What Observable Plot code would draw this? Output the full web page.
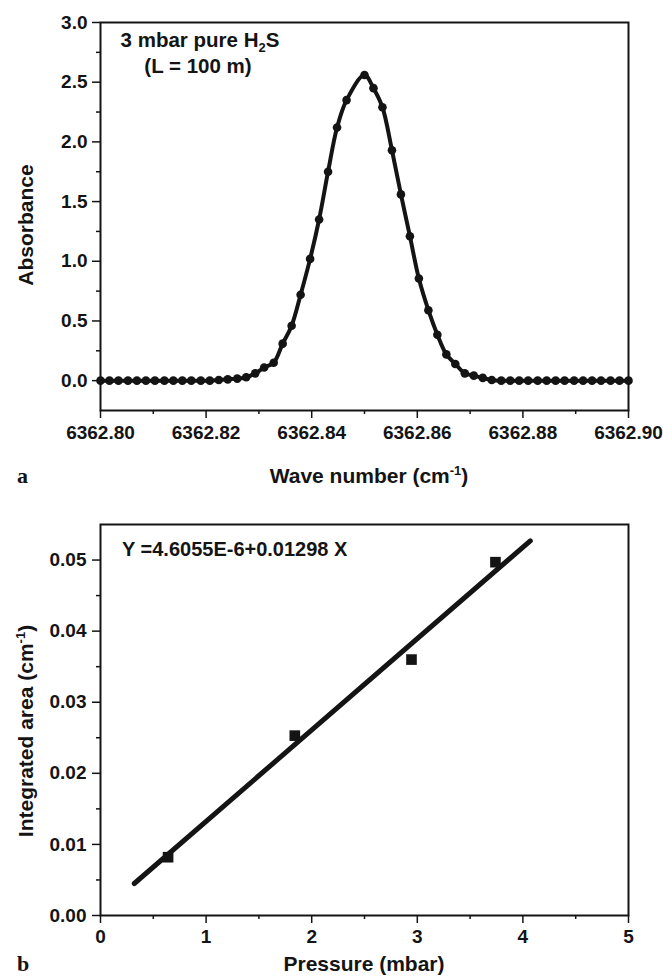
<!DOCTYPE html>
<html>
<head>
<meta charset="utf-8">
<script src="https://cdn.jsdelivr.net/npm/d3@7"></script>
<script src="https://cdn.jsdelivr.net/npm/@observablehq/plot@0.6"></script>
<style>
  body { margin: 0; background: #fff; }
  #chart svg { display: block; }
</style>
</head>
<body>
<div id="chart"></div>
<script>
// ---------- Panel a: absorption spectrum ----------
const wavenumber = [
  6362.8000, 6362.8017, 6362.8034, 6362.8052, 6362.8069, 6362.8086, 6362.8103, 6362.8121, 6362.8138, 6362.8155,
  6362.8172, 6362.8190, 6362.8207, 6362.8224, 6362.8241, 6362.8259, 6362.8276, 6362.8293, 6362.8310, 6362.8328,
  6362.8345, 6362.8362, 6362.8379, 6362.8397, 6362.8414, 6362.8431, 6362.8448, 6362.8466, 6362.8500,
  6362.8517, 6362.8534, 6362.8552, 6362.8569, 6362.8586, 6362.8603, 6362.8621, 6362.8638, 6362.8655,
  6362.8672, 6362.8690, 6362.8707, 6362.8724, 6362.8741, 6362.8759, 6362.8776, 6362.8793, 6362.8810, 6362.8828,
  6362.8845, 6362.8862, 6362.8879, 6362.8897, 6362.8914, 6362.8931, 6362.8948, 6362.8966, 6362.8983, 6362.9000
];
const absorbance = [
  0, 0, 0, 0, 0, 0, 0, 0, 0, 0,
  0, 0, 0, 0.005, 0.011, 0.017, 0.028, 0.061, 0.11, 0.15,
  0.31, 0.46, 0.72, 1.02, 1.35, 1.75, 2.12, 2.35, 2.56,
  2.45, 2.29, 1.93, 1.56, 1.21, 0.855, 0.59, 0.385, 0.22,
  0.14, 0.061, 0.042, 0.023, 0.006, 0, 0, 0, 0, 0,
  0, 0, 0, 0, 0, 0, 0, 0, 0, 0
];
const xTicksA = [6362.80, 6362.82, 6362.84, 6362.86, 6362.88, 6362.90];
const xMinorA = [6362.81, 6362.83, 6362.85, 6362.87, 6362.89];
const yTicksA = [0.0, 0.5, 1.0, 1.5, 2.0, 2.5, 3.0];
const yMinorA = [0.25, 0.75, 1.25, 1.75, 2.25, 2.75];

// ---------- Panel b: integrated area vs pressure ----------
const pressure = [0.64, 1.84, 2.945, 3.74];
const integratedArea = [0.0082, 0.0253, 0.0360, 0.0497];
const fitPressure = [0.32, 4.07];
const fitArea = [0.0045, 0.0527];
const xTicksB = [0, 1, 2, 3, 4, 5];
const xMinorB = [0.5, 1.5, 2.5, 3.5, 4.5];
const yTicksB = [0.00, 0.01, 0.02, 0.03, 0.04, 0.05];
const yMinorB = [0.005, 0.015, 0.025, 0.035, 0.045];

const spectrum = wavenumber.map((w, i) => ({w, a: absorbance[i]}));
const points = pressure.map((p, i) => ({p, v: integratedArea[i]}));
const fit = fitPressure.map((p, i) => ({p, v: fitArea[i]}));

const font = "'Liberation Sans', Arial, Helvetica, sans-serif";
const ink = "#141414";
const baseStyle = {fontFamily: font, fontWeight: "bold", fontSize: "19px", color: ink, background: "#fff", overflow: "visible"};

const plotA = Plot.plot({
  width: 663, height: 500,
  marginLeft: 100, marginRight: 35, marginTop: 22, marginBottom: 90,
  style: baseStyle,
  x: {domain: [6362.80, 6362.90], label: null},
  y: {domain: [-0.25, 3.0], label: null},
  marks: [
    Plot.line(spectrum, {x: "w", y: "a", stroke: ink, strokeWidth: 4, curve: "catmull-rom"}),
    Plot.dot(spectrum, {x: "w", y: "a", r: 4.3, fill: ink}),
    Plot.axisX({ticks: xTicksA, tickSize: 8, tickPadding: 7, strokeWidth: 1.5, tickFormat: d => d.toFixed(2)}),
    Plot.axisX({ticks: xMinorA, tickSize: 4, strokeWidth: 1.5, tickFormat: () => ""}),
    Plot.axisY({ticks: yTicksA, tickSize: 8, tickPadding: 5, strokeWidth: 1.5, tickFormat: d => d.toFixed(1)}),
    Plot.axisY({ticks: yMinorA, tickSize: 4, strokeWidth: 1.5, tickFormat: () => ""}),
    Plot.frame({stroke: ink, strokeWidth: 2})
  ]
});

const plotB = Plot.plot({
  width: 663, height: 479,
  marginLeft: 100, marginRight: 35, marginTop: 24, marginBottom: 64,
  style: baseStyle,
  x: {domain: [0, 5], label: null},
  y: {domain: [0, 0.055], label: null},
  marks: [
    Plot.line(fit, {x: "p", y: "v", stroke: ink, strokeWidth: 5, strokeLinecap: "round"}),
    Plot.dot(points, {x: "p", y: "v", symbol: "square", r: 6, fill: ink}),
    Plot.axisX({ticks: xTicksB, tickSize: 8, tickPadding: 6, strokeWidth: 1.5, tickFormat: d => String(d)}),
    Plot.axisX({ticks: xMinorB, tickSize: 4, strokeWidth: 1.5, tickFormat: () => ""}),
    Plot.axisY({ticks: yTicksB, tickSize: 8, tickPadding: 6, strokeWidth: 1.5, tickFormat: d => d.toFixed(2)}),
    Plot.axisY({ticks: yMinorB, tickSize: 4, strokeWidth: 1.5, tickFormat: () => ""}),
    Plot.frame({stroke: ink, strokeWidth: 2})
  ]
});

// ---------- Text labels ----------
function supLabel(svg, parts, attrs) {
  const t = d3.select(svg).append("text")
    .attr("fill", ink).attr("text-anchor", "middle")
    .style("font-family", font).style("font-weight", "bold").style("font-size", "21px");
  if (attrs.transform) t.attr("transform", attrs.transform);
  else t.attr("x", attrs.x).attr("y", attrs.y);
  t.append("tspan").text(parts[0]);
  if (parts[1]) {
    t.append("tspan").attr("dy", -8).style("font-size", "13px").text(parts[1]);
    t.append("tspan").attr("dy", 8).text(parts[2]);
  }
  return t;
}
function plain(svg, str, x, y, opts = {}) {
  return d3.select(svg).append("text")
    .attr("x", x).attr("y", y).attr("fill", ink)
    .attr("text-anchor", opts.anchor || "start")
    .style("font-family", opts.family || font).style("font-weight", "bold")
    .style("font-size", opts.size || "21px")
    .text(str);
}

// Panel a texts
d3.select(plotA).append("text")
  .attr("transform", "translate(33,225) rotate(-90)").attr("text-anchor", "middle").attr("fill", ink)
  .style("font-family", font).style("font-weight", "bold").style("font-size", "21px")
  .text("Absorbance");
supLabel(plotA, ["Wave number (cm", "-1", ")"], {x: 369, y: 483});
plain(plotA, "a", 17, 483, {family: "'Liberation Serif', 'Times New Roman', serif", size: "22px"});
{
  const t = d3.select(plotA).append("text")
    .attr("x", 200).attr("y", 47).attr("text-anchor", "middle").attr("fill", ink)
    .style("font-family", font).style("font-weight", "bold").style("font-size", "20.5px");
  t.append("tspan").text("3 mbar pure H");
  t.append("tspan").attr("dy", 5).style("font-size", "13px").text("2");
  t.append("tspan").attr("dy", -5).text("S");
  plain(plotA, "(L = 100 m)", 198, 73, {anchor: "middle", size: "20.5px"});
}

// Panel b texts
supLabel(plotB, ["Integrated area (cm", "-1", ")"], {transform: "translate(33,231) rotate(-90)"});
supLabel(plotB, ["Pressure (mbar)", "", ""], {x: 364, y: 471});
plain(plotB, "b", 17, 471, {family: "'Liberation Serif', 'Times New Roman', serif", size: "22px"});
plain(plotB, "Y =4.6055E-6+0.01298 X", 122, 56, {size: "20px"});

const chart = document.getElementById("chart");
chart.appendChild(plotA);
chart.appendChild(plotB);
</script>
</body>
</html>
